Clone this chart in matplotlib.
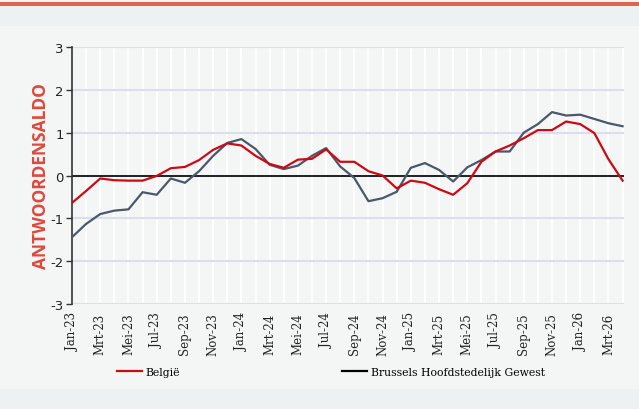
import matplotlib
matplotlib.use("Agg")
import matplotlib.pyplot as plt
from matplotlib.lines import Line2D
from matplotlib.patches import Rectangle
import numpy as np

months = ["Jan", "Feb", "Mrt", "Apr", "Mei", "Jun", "Jul", "Aug", "Sep", "Okt", "Nov", "Dec"]
labels = [f"{months[i % 12]}-{23 + i // 12}" for i in range(40)]

belgie = [-0.64, -0.36, -0.07, -0.11, -0.12, -0.12, -0.01, 0.17, 0.20, 0.36,
          0.60, 0.75, 0.70, 0.46, 0.27, 0.18, 0.37, 0.39, 0.61, 0.32,
          0.32, 0.10, 0.00, -0.30, -0.12, -0.17, -0.32, -0.45, -0.18, 0.32,
          0.56, 0.70, 0.87, 1.06, 1.06, 1.26, 1.20, 0.99, 0.38, -0.12]
brussel = [-1.44, -1.13, -0.90, -0.82, -0.79, -0.39, -0.45, -0.07, -0.17, 0.10,
           0.46, 0.76, 0.85, 0.62, 0.25, 0.15, 0.23, 0.46, 0.64, 0.21,
           -0.06, -0.60, -0.53, -0.38, 0.18, 0.29, 0.13, -0.14, 0.19, 0.36,
           0.56, 0.56, 1.00, 1.20, 1.48, 1.40, 1.42, 1.32, 1.22, 1.15]
yticks = [-3, -2, -1, 0, 1, 2, 3]

W, H = 639, 410
bg = "#f4f6f6"
fig = plt.figure(figsize=(W / 100, H / 100), dpi=100, facecolor=bg)

# decorative bands
fig.patches.append(Rectangle((0, 1 - 27 / H), 1, 21 / H, transform=fig.transFigure,
                             facecolor="#eef1f2", edgecolor="none", zorder=0))
fig.patches.append(Rectangle((0, 0), 1, 20 / H, transform=fig.transFigure,
                             facecolor="#eef1f2", edgecolor="none", zorder=0))
fig.patches.append(Rectangle((0, 1 - 7 / H), 1, 4 / H, transform=fig.transFigure,
                             facecolor="#e0654f", edgecolor="none", zorder=1))

ax = fig.add_axes([72 / W, 1 - 305 / H, (624 - 72) / W, (305 - 48) / H])
ax.set_facecolor(bg)

x = np.arange(len(labels))
ax.set_xlim(0, 39.1)
ax.set_ylim(-3, 3)

for xi in x:
    ax.axvline(xi, color="white", lw=1.4, zorder=1)
for yv in yticks:
    ax.axhline(yv, color="#dcdfe9", lw=1.5, zorder=1)
ax.axhline(0, color="black", lw=1.2, zorder=2)

red = "#cc0a14"
grey = "#4b586b"
ax.plot(x, brussel, color=grey, lw=1.6, zorder=3)
ax.plot(x, belgie, color=red, lw=1.6, zorder=4)

for s in ["top", "right", "bottom"]:
    ax.spines[s].set_visible(False)
ax.spines["left"].set_color("#333333")
ax.spines["left"].set_linewidth(1.2)

ax.set_yticks(yticks)
ax.set_yticklabels([str(v) for v in yticks], fontsize=9.5, color="#222222")
ax.tick_params(axis="y", length=4, width=1, color="#333333", pad=2)

ax.set_xticks(x[::2])
ax.set_xticklabels(labels[::2], rotation=90, fontsize=8.5, family="DejaVu Serif",
                   color="#222222")
ax.tick_params(axis="x", length=0, pad=6)

ax.set_ylabel("ANTWOORDENSALDO", color="#e0473a", fontsize=12.5, fontweight="bold",
              family="Open Sans", labelpad=0.5)

handles = [Line2D([], [], color=red, lw=1.6), Line2D([], [], color="black", lw=1.6)]
leg = fig.legend(handles, ["België", "Brussels Hoofdstedelijk Gewest"], ncol=2,
                 loc="center left", bbox_to_anchor=(107 / W, 1 - 373 / H),
                 frameon=False, handlelength=2.3, handletextpad=0.3,
                 columnspacing=15.05, prop={"family": "DejaVu Serif", "size": 7.8})

fig.savefig("out.png", dpi=100, facecolor=bg)
